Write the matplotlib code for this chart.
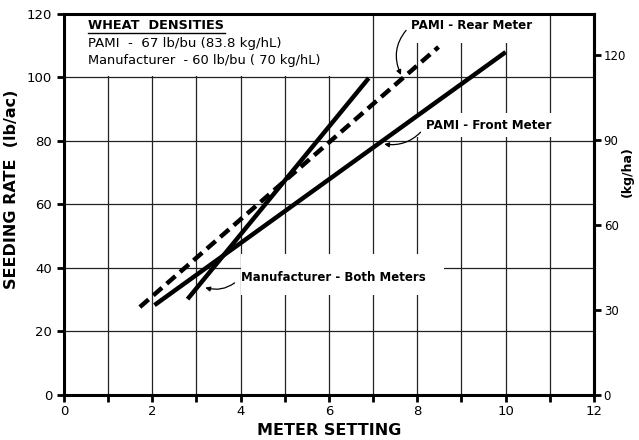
import matplotlib
matplotlib.use("Agg")
import matplotlib.pyplot as plt
from matplotlib.patches import Rectangle

# Data (meter setting vs seeding rate lb/ac), endpoints
rear_x = [1.72, 8.48]
rear_y = [27.7, 109.6]
front_x = [2.05, 10.0]
front_y = [28.3, 108.0]
manu_x = [2.8, 6.9]
manu_y = [30.2, 99.8]

x_major = [0, 2, 4, 6, 8, 10, 12]
y_major = [0, 20, 40, 60, 80, 100, 120]
kg_ticks = [0, 30, 60, 90, 120]
LB_TO_KG = 1.12085

plt.rcParams['font.family'] = ['DejaVu Sans']
fig = plt.figure(figsize=(6.39, 4.40), dpi=100)
ax = fig.add_axes([0.100, 0.1023, 0.8296, 0.8659])
ax.set_xlim(0, 12)
ax.set_ylim(0, 120)

# grid
for xv in range(1, 12):
    ax.axvline(xv, color='#222222', lw=0.9, zorder=1)
for yv in y_major[1:-1]:
    ax.axhline(yv, color='#222222', lw=0.9, zorder=1)

# white blocks behind labels
for (x0, y0, w, h) in [(0.05, 100.6, 6.15, 19.2), (7.55, 111.0, 3.05, 8.8),
                       (7.35, 81.3, 3.85, 7.5), (4.0, 31.5, 4.6, 13.0)]:
    ax.add_patch(Rectangle((x0, y0), w, h, facecolor='white', edgecolor='none', zorder=2))

ax.plot(rear_x, rear_y, color='black', lw=3.2, ls=(0, (2.6, 1.4)), zorder=4,
        solid_capstyle='butt', dash_capstyle='butt')
ax.plot(front_x, front_y, color='black', lw=3.2, zorder=4, solid_capstyle='butt')
ax.plot(manu_x, manu_y, color='black', lw=3.2, zorder=4, solid_capstyle='butt')

for s in ax.spines.values():
    s.set_linewidth(2.2)

ax.set_xticks(x_major)
ax.set_xticks(range(0, 13), minor=True)
ax.set_xticklabels([str(v) for v in x_major])
ax.set_yticks(y_major)
ax.set_yticklabels([str(v) for v in y_major])
ax.tick_params(axis='both', which='both', direction='out', length=5, width=2,
               labelsize=9.5)
ax.tick_params(axis='x', which='major', pad=2)

sec = ax.secondary_yaxis('right', functions=(lambda v: v * LB_TO_KG, lambda v: v / LB_TO_KG))
sec.set_yticks(kg_ticks)
sec.set_yticklabels([str(v) for v in kg_ticks])
sec.tick_params(direction='out', length=5, width=2, labelsize=8.5, pad=2)
sec.spines['right'].set_linewidth(2.2)
fig.text(0.982, 0.61, '(kg/ha)', fontsize=9, fontweight='bold', rotation=90,
         ha='center', va='center')

ax.set_xlabel('METER SETTING', fontsize=11.5, fontweight='bold', labelpad=4)
ax.set_ylabel('SEEDING RATE  (lb/ac)', fontsize=11.5, fontweight='bold', labelpad=4)
ax.yaxis.set_label_coords(-0.085, 0.54)

# header text
ax.text(0.55, 116.5, 'WHEAT  DENSITIES', fontsize=9.3, fontweight='bold', va='center', zorder=5)
ax.plot([0.55, 3.65], [114.0, 114.0], color='black', lw=1.0, zorder=5)
ax.text(0.55, 110.6, 'PAMI  -  67 lb/bu (83.8 kg/hL)', fontsize=9.6, va='center', zorder=5)
ax.text(0.55, 105.4, 'Manufacturer  - 60 lb/bu ( 70 kg/hL)', fontsize=9.4, va='center', zorder=5)

arrow = dict(arrowstyle='-|>', color='black', lw=0.9, mutation_scale=7, relpos=(0, 0.5))
ax.annotate('PAMI - Rear Meter', xy=(7.63, 100.8), xytext=(7.85, 116.4),
            fontsize=8.6, fontweight='bold', va='center', ha='left', zorder=5,
            arrowprops=dict(arrow, connectionstyle='arc3,rad=0.35',
                            shrinkA=2, shrinkB=0))
ax.annotate('PAMI - Front Meter', xy=(7.25, 79.0), xytext=(8.2, 84.9),
            fontsize=8.6, fontweight='bold', va='center', ha='left', zorder=5,
            arrowprops=dict(arrow, connectionstyle='arc3,rad=-0.3',
                            shrinkA=3, shrinkB=0))
ax.annotate('Manufacturer - Both Meters', xy=(3.2, 33.8), xytext=(4.0, 37.0),
            fontsize=8.5, fontweight='bold', va='center', ha='left', zorder=5,
            arrowprops=dict(arrow, connectionstyle='arc3,rad=-0.3',
                            shrinkA=3, shrinkB=0))

fig.savefig('out.png', dpi=100)
